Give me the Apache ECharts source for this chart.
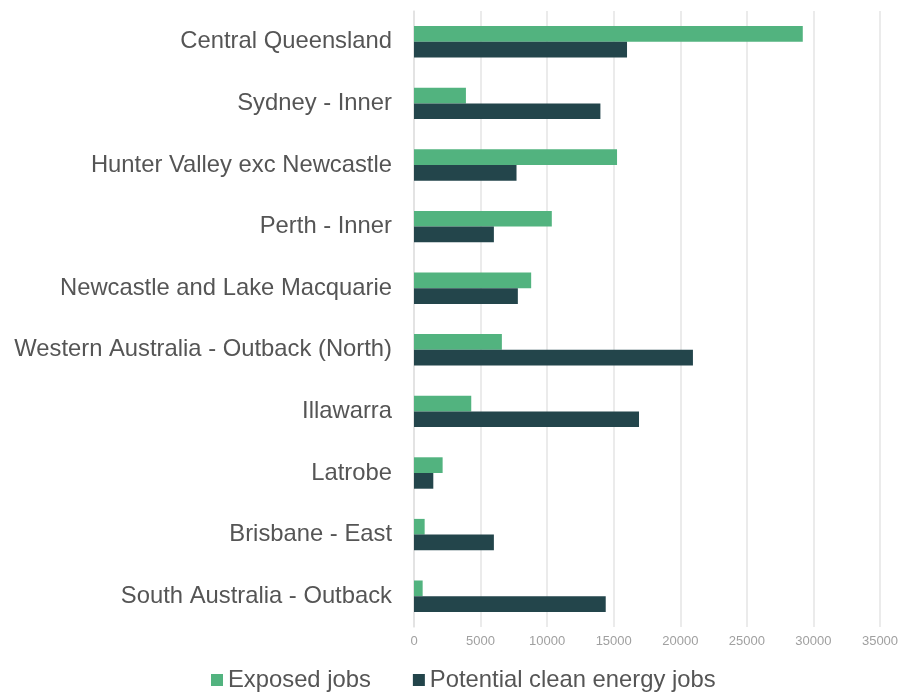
<!DOCTYPE html>
<html>
<head>
<meta charset="utf-8">
<title>Exposed and potential clean energy jobs by region</title>
<script src="https://cdn.jsdelivr.net/npm/echarts@6/dist/echarts.min.js"></script>
<style>
  html, body { margin: 0; padding: 0; background: #ffffff; }
  #chart { width: 911px; height: 693px; }
</style>
</head>
<body>
<div id="chart"></div>
<script>
// Regions, listed top to bottom
const regions = [
  'Central Queensland',
  'Sydney - Inner',
  'Hunter Valley exc Newcastle',
  'Perth - Inner',
  'Newcastle and Lake Macquarie',
  'Western Australia - Outback (North)',
  'Illawarra',
  'Latrobe',
  'Brisbane - East',
  'South Australia - Outback'
];

// Jobs per region
const exposedJobs = [29200, 3900, 15250, 10350, 8800, 6600, 4300, 2150, 800, 650];
const cleanEnergyJobs = [16000, 14000, 7700, 6000, 7800, 20950, 16900, 1450, 6000, 14400];

// Value axis ticks
const axisTicks = [0, 5000, 10000, 15000, 20000, 25000, 30000, 35000];

const chart = echarts.init(document.getElementById('chart'));

chart.setOption({
  animation: false,
  textStyle: { fontFamily: '"Liberation Sans", Arial, sans-serif' },
  grid: { left: 414, right: 31, top: 11, bottom: 66, containLabel: false },
  legend: {
    bottom: -4,
    left: 206,
    itemWidth: 12,
    itemHeight: 12,
    itemGap: 42,
    icon: 'rect',
    textStyle: { fontSize: 23.8, color: '#555555' },
    data: ['Exposed jobs', 'Potential clean energy jobs']
  },
  xAxis: {
    type: 'value',
    min: axisTicks[0],
    max: axisTicks[axisTicks.length - 1],
    interval: axisTicks[1] - axisTicks[0],
    axisLine: { show: false },
    axisTick: { show: false },
    axisLabel: {
      color: '#a0a0a0',
      fontSize: 13,
      margin: 8,
      formatter: (v) => String(v)
    },
    splitLine: { show: true, lineStyle: { color: '#e4e4e4', width: 1.5 } }
  },
  yAxis: {
    type: 'category',
    inverse: true,
    data: regions,
    axisLine: { show: true, lineStyle: { color: '#e0e0e0', width: 1.5 } },
    axisTick: { show: false },
    axisLabel: { color: '#555555', fontSize: 23.8, margin: 22, padding: [4, 0, 0, 0] }
  },
  series: [
    {
      name: 'Exposed jobs',
      type: 'bar',
      data: exposedJobs,
      barGap: '0%',
      barCategoryGap: '49%',
      itemStyle: { color: '#52b37f' }
    },
    {
      name: 'Potential clean energy jobs',
      type: 'bar',
      data: cleanEnergyJobs,
      barGap: '0%',
      barCategoryGap: '49%',
      itemStyle: { color: '#23454b' }
    }
  ]
});
</script>
</body>
</html>
